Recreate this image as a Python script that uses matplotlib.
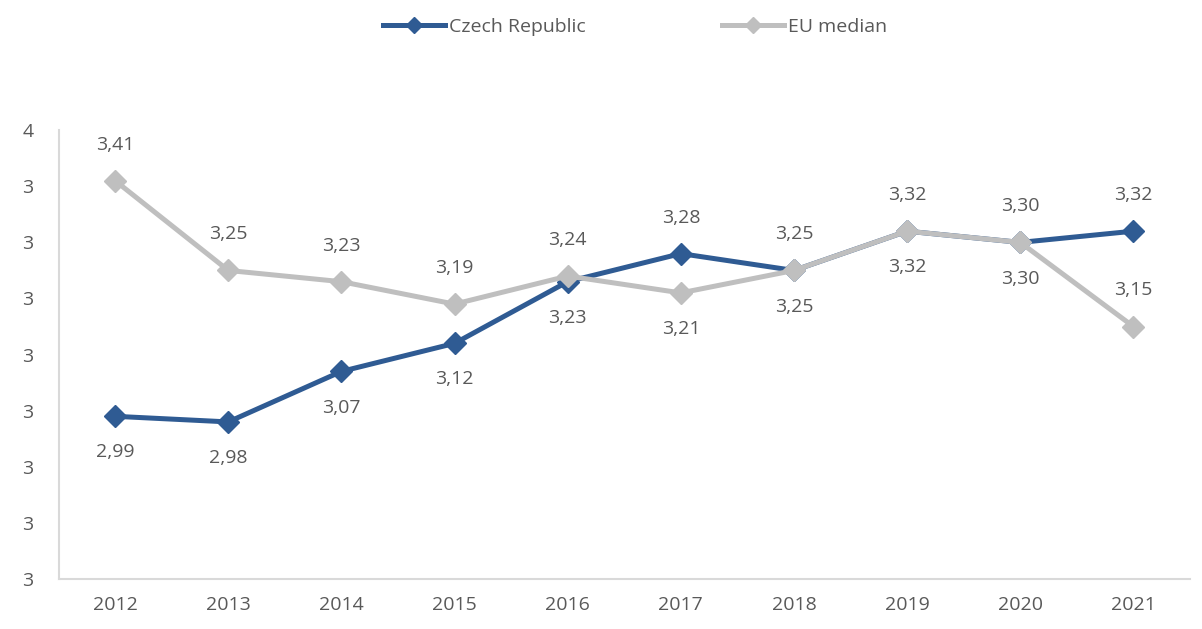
import matplotlib.pyplot as plt
import numpy as np
from matplotlib.lines import Line2D

plt.rcParams["font.family"] = ["Open Sans", "DejaVu Sans"]

years = ["2012", "2013", "2014", "2015", "2016", "2017", "2018", "2019", "2020", "2021"]
czech = [2.99, 2.98, 3.07, 3.12, 3.23, 3.28, 3.25, 3.32, 3.30, 3.32]
eu_median = [3.41, 3.25, 3.23, 3.19, 3.24, 3.21, 3.25, 3.32, 3.30, 3.15]
# posicion de la etiqueta: 1 arriba, -1 abajo
czech_pos = [-1, -1, -1, -1, -1, 1, -1, -1, -1, 1]
eu_pos = [1, 1, 1, 1, 1, -1, 1, 1, 1, 1]

azul = "#2F5B93"
gris = "#BFBFBF"
texto = "#595959"

fig = plt.figure(figsize=(12.02, 6.29), dpi=100)
ax = fig.add_axes([0.0487, 0.0795, 0.9413, 0.7135])

x = np.arange(len(years))
ax.plot(x, czech, color=azul, lw=3.6, marker="D", ms=11, zorder=3)
ax.plot(x, eu_median, color=gris, lw=3.6, marker="D", ms=11, zorder=4)

for serie, pos in ((czech, czech_pos), (eu_median, eu_pos)):
    for i, (v, p) in enumerate(zip(serie, pos)):
        ax.annotate(f"{v:.2f}".replace(".", ","), (i, v), xytext=(0, 26 * p),
                    textcoords="offset points", ha="center", va="center",
                    fontsize=14, color=texto)

ax.set_xlim(-0.5, len(years) - 0.5)
ax.set_ylim(2.7, 3.5)
ax.set_xticks(x)
ax.set_xticklabels(years)
yt = np.arange(2.7, 3.51, 0.1)
ax.set_yticks(yt)
ax.set_yticklabels([str(int(np.floor(v + 0.5 + 1e-9))) for v in yt])
ax.tick_params(length=0, labelsize=14, colors=texto, pad=12)
ax.tick_params(axis="y", pad=18)
for s in ("top", "right"):
    ax.spines[s].set_visible(False)
for s in ("left", "bottom"):
    ax.spines[s].set_color("#D9D9D9")
    ax.spines[s].set_linewidth(1.5)

handles = [Line2D([], [], color=azul, lw=3.6, marker="D", ms=8),
           Line2D([], [], color=gris, lw=3.6, marker="D", ms=8)]
fig.legend(handles, ["Czech Republic", "EU median"], loc="center",
           bbox_to_anchor=(0.528, 0.957), ncol=2, frameon=False, fontsize=14,
           labelcolor=texto, handlelength=3.2, handletextpad=0.2, columnspacing=7)

fig.savefig("out.png", dpi=100)
